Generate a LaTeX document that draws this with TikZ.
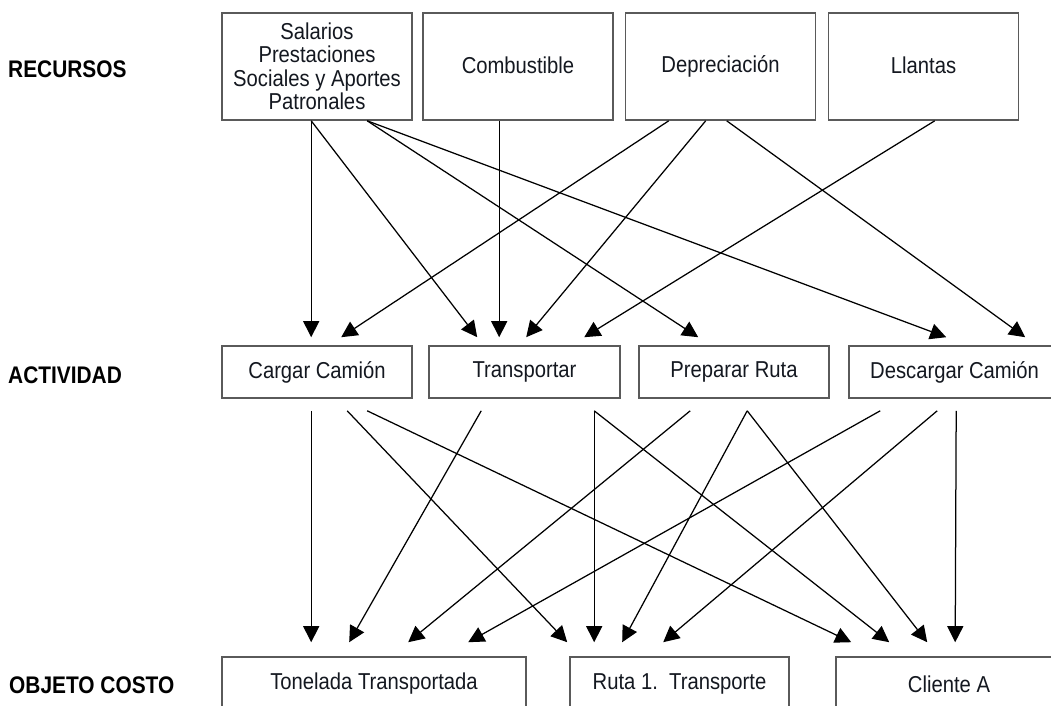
\documentclass[tikz,border=0pt]{standalone}
\usepackage{fontspec}
\setmainfont{Liberation Sans}[FakeStretch=0.88]
\newfontfamily\labfont{Liberation Sans}[FakeStretch=0.87]
\usetikzlibrary{arrows.meta}
\definecolor{boxgray}{HTML}{5A5A5A}
\definecolor{inkc}{HTML}{141820}
\begin{document}
\begin{tikzpicture}[x=1pt,y=-1pt,
  box/.style={draw=boxgray, line width=1.6pt, inner sep=0pt, text=inkc,
              font=\fontsize{23}{23.5}\selectfont, align=center},
  topbox/.style={box, minimum width=190pt, minimum height=107pt},
  midbox/.style={box, minimum height=52pt},
  botbox/.style={box, minimum height=54pt},
  lab/.style={anchor=west, inner sep=0pt, text=black, font=\labfont\fontsize{24}{26}\selectfont\bfseries},
  arr/.style={-{Triangle[length=16pt,width=16pt]}, line width=1.25pt, draw=black}]
\useasboundingbox (0,0) rectangle (1051,705);
\fill[white] (0,0) rectangle (1051,705);

% labels
\node[lab] (lrec) at (8,69) {RECURSOS};
\node[lab] (lact) at (8,375) {ACTIVIDAD};
\node[lab] (lobj) at (9,685) {OBJETO COSTO};

% resources
\node[topbox] (sal) at (317,66.5) {Salarios\\Prestaciones\\Sociales y Aportes\\Patronales};
\node[topbox] (comb) at (518,66.5) {\raisebox{3pt}{Combustible}};
\node[topbox] (dep) at (720.5,66.5) {\raisebox{3pt}{Depreciación}};
\node[topbox] (llan) at (923.5,66.5) {\raisebox{3pt}{Llantas}};

% activities
\node[midbox, minimum width=190pt] (carg) at (317,372) {Cargar Camión};
\node[midbox, minimum width=191pt] (trans) at (524.5,372) {Transportar};
\node[midbox, minimum width=190pt] (prep) at (734,372) {Preparar Ruta};
\node[midbox, minimum width=211pt] (desc) at (954.5,372) {Descargar Camión};

% cost objects
\node[botbox, minimum width=304pt] (ton) at (374,684) {Tonelada Transportada};
\node[botbox, minimum width=219pt] (ruta) at (679.5,684) {Ruta 1.\ \ Transporte};
\node[botbox, minimum width=226pt] (cli) at (949,684) {Cliente A};

% resources -> activities
\draw[arr] ([xshift=90pt]sal.south west) -- ([xshift=90pt,yshift=8pt]carg.north west);
\draw[arr] ([xshift=90pt]sal.south west) -- ([xshift=49pt,yshift=8pt]trans.north west);
\draw[arr] ([xshift=146pt]sal.south west) -- ([xshift=60pt,yshift=8pt]prep.north west);
\draw[arr] ([xshift=146pt]sal.south west) -- ([xshift=98pt,yshift=8pt]desc.north west);
\draw[arr] ([xshift=77pt]comb.south west) -- ([xshift=71pt,yshift=8pt]trans.north west);
\draw[arr] ([xshift=44pt]dep.south west) -- ([xshift=120pt,yshift=8pt]carg.north west);
\draw[arr] ([xshift=81pt]dep.south west) -- ([xshift=98pt,yshift=8pt]trans.north west);
\draw[arr] ([xshift=102pt]dep.south west) -- ([xshift=177pt,yshift=8pt]desc.north west);
\draw[arr] ([xshift=107pt]llan.south west) -- ([xshift=156pt,yshift=8pt]trans.north west);

% activities -> cost objects
\draw[arr] ([xshift=90pt,yshift=-12pt]carg.south west) -- ([xshift=90pt,yshift=14pt]ton.north west);
\draw[arr] ([xshift=126pt,yshift=-12pt]carg.south west) -- ([xshift=-2pt,yshift=14pt]ruta.north west);
\draw[arr] ([xshift=146pt,yshift=-12pt]carg.south west) -- ([xshift=16pt,yshift=14pt]cli.north west);
\draw[arr] ([xshift=53pt,yshift=-12pt]trans.south west) -- ([xshift=128pt,yshift=14pt]ton.north west);
\draw[arr] ([xshift=166pt,yshift=-12pt]trans.south west) -- ([xshift=25pt,yshift=14pt]ruta.north west);
\draw[arr] ([xshift=166pt,yshift=-12pt]trans.south west) -- ([xshift=54pt,yshift=14pt]cli.north west);
\draw[arr] ([xshift=52pt,yshift=-12pt]prep.south west) -- ([xshift=187pt,yshift=14pt]ton.north west);
\draw[arr] ([xshift=109pt,yshift=-12pt]prep.south west) -- ([xshift=53pt,yshift=14pt]ruta.north west);
\draw[arr] ([xshift=109pt,yshift=-12pt]prep.south west) -- ([xshift=92pt,yshift=14pt]cli.north west);
\draw[arr] ([xshift=32pt,yshift=-12pt]desc.south west) -- ([xshift=247pt,yshift=14pt]ton.north west);
\draw[arr] ([xshift=89pt,yshift=-12pt]desc.south west) -- ([xshift=94pt,yshift=14pt]ruta.north west);
\draw[arr] ([xshift=108pt,yshift=-12pt]desc.south west) -- ([xshift=120pt,yshift=14pt]cli.north west);
\end{tikzpicture}
\end{document}
